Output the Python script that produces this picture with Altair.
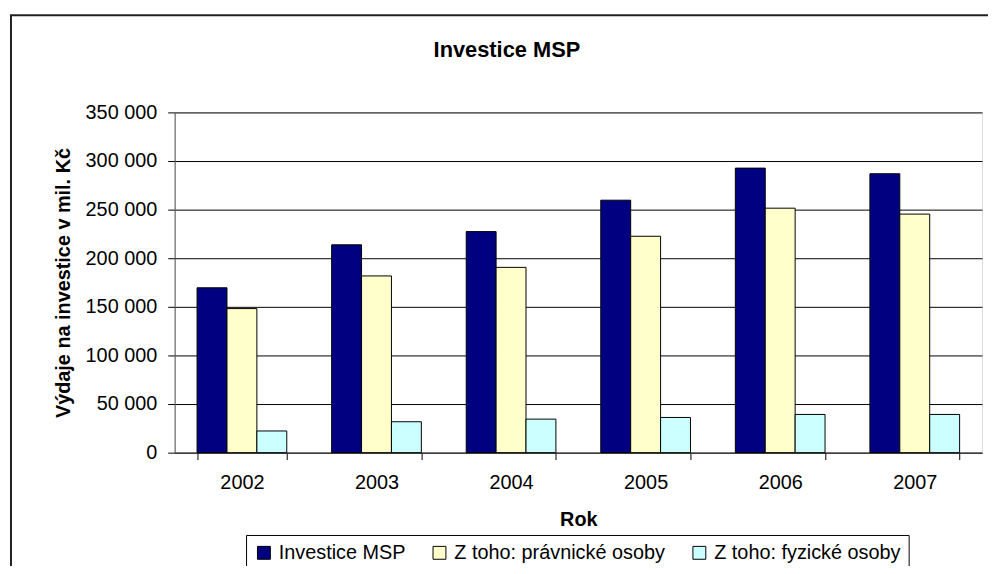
import altair as alt
import pandas as pd

years = ["2002", "2003", "2004", "2005", "2006", "2007"]
investice_msp = [169600, 213800, 227400, 259700, 292700, 286900]
pravnicke_osoby = [148200, 181800, 190600, 222600, 251500, 245400]
fyzicke_osoby = [22300, 31800, 34500, 36200, 39300, 39300]
series_names = ["Investice MSP", "Z toho: právnické osoby", "Z toho: fyzické osoby"]
series_colors = ["#000080", "#FFFFCC", "#CCFFFF"]
y_ticks = [0, 50000, 100000, 150000, 200000, 250000, 300000, 350000]
chart_title = ["Investice MSP"]

rows = []
for i, yr in enumerate(years):
    for name, vals in zip(series_names, [investice_msp, pravnicke_osoby, fyzicke_osoby]):
        rows.append({"Rok": yr, "Řada": name, "Hodnota": vals[i]})
df = pd.DataFrame(rows)

FONT = "Liberation Sans"
W, H = 814, 343

bars = alt.Chart(df).mark_bar(stroke="black", strokeWidth=1).encode(
    x=alt.X(
        "Rok:N", sort=years,
        scale=alt.Scale(paddingInner=1/3, paddingOuter=1/6),
        axis=alt.Axis(
            title="Rok", labelAngle=0, labelFontSize=20, labelPadding=13, labelColor="black",
            labelFont=FONT, tickBand="extent", tickSize=7, tickColor="black",
            domainColor="#333333", grid=False, titleFontSize=20, titleFontWeight="bold",
            titleFont=FONT, titleColor="black", titleBaseline="alphabetic",
            titleY=73, titleX=W / 2, titleAlign="center",
        ),
    ),
    xOffset=alt.XOffset("Řada:N", sort=series_names,
                        scale=alt.Scale(paddingInner=0, paddingOuter=0)),
    y=alt.Y(
        "Hodnota:Q",
        scale=alt.Scale(domain=[0, 350000], nice=False),
        axis=alt.Axis(
            values=y_ticks,
            labelExpr="replace(format(datum.value, ','), ',', ' ')",
            title="Výdaje na investice v mil. Kč", labelFontSize=20, labelFont=FONT,
            labelColor="black", labelPadding=11, tickSize=7, tickColor="black",
            domainColor="#555555", gridColor="black", gridOpacity=1, gridWidth=1,
            titleFontSize=20, titleFontWeight="bold", titleFont=FONT, titleColor="black",
            titleAngle=270, titleBaseline="alphabetic", titleX=-106, titleY=H / 2,
            titleAlign="center",
        ),
    ),
    color=alt.Color(
        "Řada:N", sort=series_names,
        scale=alt.Scale(domain=series_names, range=series_colors),
        legend=alt.Legend(
            title=None, orient="none", legendX=72, legendY=426, direction="horizontal",
            symbolType="square", symbolSize=169, symbolStrokeColor="black",
            symbolStrokeWidth=1, symbolOpacity=1, labelFontSize=20, labelFont=FONT,
            labelColor="black", labelOffset=5, labelLimit=400, columnPadding=24,
            padding=8, strokeColor="black", fillColor="white",
        ),
    ),
)

border = alt.Chart(pd.DataFrame({"k": [0]})).mark_rect(
    fillOpacity=0, stroke="#222222", strokeWidth=2
).encode(
    x=alt.value(-165), x2=alt.value(900), y=alt.value(-98), y2=alt.value(600)
)

title = alt.Chart(pd.DataFrame({"t": chart_title})).mark_text(
    font=FONT, fontSize=22, fontWeight="bold", color="black",
    align="center", baseline="alphabetic"
).encode(
    text="t:N", x=alt.value(335), y=alt.value(-56)
)

chart = alt.layer(border, bars, title).properties(
    width=W, height=H,
    autosize=alt.AutoSizeParams(type="none"),
    padding={"left": 168, "top": 103, "right": 6, "bottom": 112},
).configure_view(
    fill="#C0C0C0", stroke="#808080", strokeWidth=1
).configure(background="white")

chart.save("out.html", embed_options={"renderer": "svg", "actions": False})
